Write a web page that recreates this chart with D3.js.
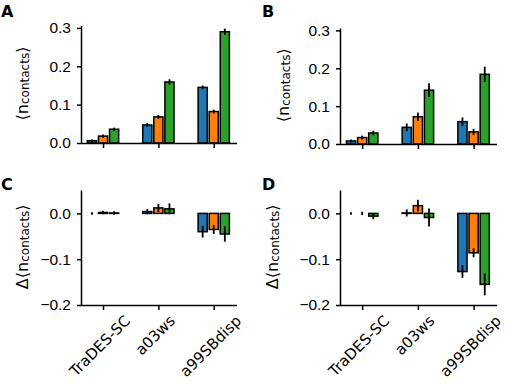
<!DOCTYPE html>
<html>
<head>
<meta charset="utf-8">
<script src="https://cdn.jsdelivr.net/npm/d3@7"></script>
<style>
  html, body { margin: 0; padding: 0; background: #fff; }
  svg { display: block; font-family: "DejaVu Sans", "Liberation Sans", sans-serif; }
</style>
</head>
<body>
<div id="chart"></div>
<script>
// categories (x ticks)
const models = ["TraDES-SC", "a03ws", "a99SBdisp"];
const seriesColors = ["#1f77b4", "#ff7f0e", "#2ca02c"];

// panel A: <n_contacts>, three series per model
const aVals = [[0.006, 0.047, 0.145], [0.018, 0.068, 0.082], [0.036, 0.159, 0.290]];
const aErrs = [[0.001, 0.003, 0.003], [0.002, 0.003, 0.003], [0.002, 0.005, 0.006]];
// panel B
const bVals = [[0.008, 0.044, 0.059], [0.017, 0.072, 0.032], [0.029, 0.142, 0.184]];
const bErrs = [[0.002, 0.008, 0.009], [0.003, 0.009, 0.006], [0.004, 0.016, 0.018]];
// panel C: difference
const cVals = [[0.000, 0.004, -0.040], [0.002, 0.012, -0.035], [0.001, 0.010, -0.045]];
const cErrs = [[0.001, 0.004, 0.011], [0.002, 0.007, 0.008], [0.002, 0.010, 0.015]];
// panel D
const dVals = [[0.000, 0.001, -0.127], [0.000, 0.017, -0.086], [-0.006, -0.009, -0.155]];
const dErrs = [[0.001, 0.006, 0.012], [0.002, 0.011, 0.008], [0.005, 0.018, 0.022]];

const posTicks = [0, 0.1, 0.2, 0.3];
const diffTicks = [-0.2, -0.1, 0.0];

const W = 505, H = 390;
const FS = 15.5;     // tick font size
const XFS = 15;      // rotated category labels
const ROT = 45;      // x tick label angle
const svg = d3.select("#chart").append("svg")
  .attr("width", W).attr("height", H).attr("viewBox", `0 0 ${W} ${H}`);

const fmt = v => d3.format(".1f")(v).replace("-", "\u2212");

function panel(o) {
  const g = svg.append("g");
  const x = d3.scaleLinear().domain([-0.38, 2.42]).range([o.x0, o.x1]);
  const y = d3.scaleLinear().domain(o.ydom).range([o.yb, o.yt]);
  const base = o.ydom[0] < 0 ? 0 : o.ydom[0];
  const off = 0.2, bw = 0.165;

  // bars
  o.vals.forEach((row, s) => {
    row.forEach((v, i) => {
      const cx = i + (s - 1) * off;
      g.append("rect")
        .attr("x", x(cx - bw / 2)).attr("width", x(cx + bw / 2) - x(cx - bw / 2))
        .attr("y", y(Math.max(v, base))).attr("height", Math.abs(y(v) - y(base)))
        .attr("fill", seriesColors[s]).attr("stroke", "#000").attr("stroke-width", 1.5);
    });
  });
  // error bars
  o.vals.forEach((row, s) => {
    row.forEach((v, i) => {
      const cx = x(i + (s - 1) * off);
      const e = o.errs[s][i];
      g.append("line")
        .attr("x1", cx).attr("x2", cx)
        .attr("y1", y(v - e) + 0.8).attr("y2", y(v + e) - 0.8)
        .attr("stroke", "#000").attr("stroke-width", 1.8);
    });
  });

  // y axis
  const ya = g.append("g").attr("transform", `translate(${o.x0},0)`)
    .call(d3.axisLeft(y).tickValues(o.ticks).tickFormat(fmt).tickSize(5).tickPadding(6));
  ya.select(".domain").attr("stroke-width", 1.5).attr("d", `M-0.5,${o.yb}V${o.yt}`);
  ya.selectAll(".tick line").attr("stroke-width", 1.5);
  ya.selectAll(".tick text").style("font-size", FS + "px").attr("fill", "#000");

  // x axis
  const xa = g.append("g").attr("transform", `translate(0,${o.yb})`)
    .call(d3.axisBottom(x).tickValues([0, 1, 2]).tickFormat("").tickSize(5));
  xa.select(".domain").attr("stroke-width", 1.5).attr("d", `M${o.x0 - 0.5},0.5H${o.x1}`);
  xa.selectAll(".tick line").attr("stroke-width", 1.5);

  if (o.xlabels) {
    const a = ROT * Math.PI / 180, th = 12;
    models.forEach((m, i) => {
      const t = g.append("text")
        .style("font-size", XFS + "px").attr("text-anchor", "middle")
        .attr("dominant-baseline", "central").text(m);
      const len = t.node().getComputedTextLength();
      const bh = len * Math.sin(a) + th * Math.cos(a);
      t.attr("transform", `translate(${x(i) - 3},${o.yb + 9 + bh / 2}) rotate(${-ROT})`);
    });
  }

  // y label
  const lab = g.append("text")
    .attr("transform", `translate(${o.lx},${(o.yt + o.yb) / 2 - 1}) rotate(-90)`)
    .attr("text-anchor", "middle").attr("dominant-baseline", "central")
    .style("font-size", "16px");
  lab.append("tspan").text(o.delta ? "\u0394\u27e8n" : "\u27e8n");
  lab.append("tspan").attr("dy", 3).style("font-size", "12px").text("contacts");
  lab.append("tspan").attr("dy", -3).text("\u27e9");

  // panel letter
  svg.append("text").attr("x", o.px).attr("y", o.py)
    .style("font-size", "16px").style("font-weight", "bold").text(o.letter);
}

panel({ letter: "A", px: 1, py: 17, x0: 82, x1: 237, yt: 26, yb: 143, ydom: [0, 0.305],
  ticks: posTicks, vals: aVals, errs: aErrs, lx: 22 });
panel({ letter: "B", px: 262, py: 17, x0: 341, x1: 497, yt: 28.5, yb: 144, ydom: [0, 0.305],
  ticks: posTicks, vals: bVals, errs: bErrs, lx: 283 });
panel({ letter: "C", px: 1, py: 190, x0: 82, x1: 237, yt: 190.5, yb: 305, ydom: [-0.2, 0.05],
  ticks: diffTicks, vals: cVals, errs: cErrs, lx: 22, delta: true, xlabels: true });
panel({ letter: "D", px: 262, py: 190, x0: 341, x1: 497, yt: 190.5, yb: 305, ydom: [-0.2, 0.05],
  ticks: diffTicks, vals: dVals, errs: dErrs, lx: 272, delta: true, xlabels: true });
</script>
</body>
</html>
